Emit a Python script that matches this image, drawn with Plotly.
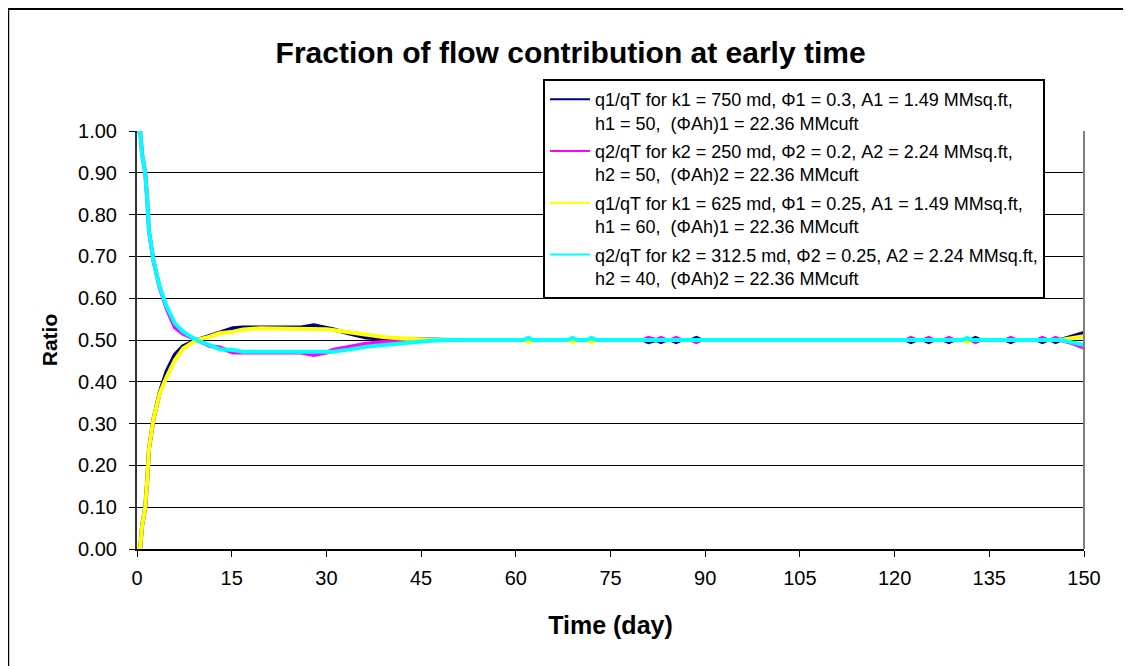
import plotly.graph_objects as go

# time axis (day) shared by all four series
days = [0, 0.5, 0.8, 1.3, 1.6, 1.9, 2.6, 3.6, 4.7, 6, 7.3, 9.4, 11.5, 13.1, 15.2, 16.8, 19.5,
        24, 26, 28, 30, 31, 33.5, 36.3, 39, 41.6, 44, 46.9, 50, 55,
        61.2, 62, 62.8, 68.2, 69, 69.8, 71.2, 72, 72.8,
        80.2, 81, 81.8, 82.2, 83, 83.8, 84.6, 85.4, 86.2, 87.8, 88.6, 89.4,
        100, 110,
        121.8, 122.6, 123.4, 124.6, 125.4, 126.2, 127.8, 128.6, 129.4,
        130.7, 131.5, 132.1, 132.8, 133.6,
        137.6, 138.4, 139.2,
        142.6, 143.4, 144.2, 144.8, 145.5, 146.3,
        148, 150]

q1_case1 = [0, 0, 0.055, 0.10, 0.16, 0.24, 0.31, 0.375, 0.425, 0.465, 0.485, 0.50, 0.51, 0.518, 0.528, 0.53, 0.53,
            0.53, 0.53, 0.535, 0.53, 0.526, 0.516, 0.506, 0.503, 0.502, 0.501, 0.50, 0.50, 0.50,
            0.50, 0.50, 0.50, 0.50, 0.50, 0.50, 0.50, 0.50, 0.50,
            0.50, 0.495, 0.50, 0.50, 0.495, 0.50, 0.50, 0.495, 0.50, 0.50, 0.505, 0.50,
            0.50, 0.50,
            0.50, 0.495, 0.50, 0.50, 0.495, 0.50, 0.50, 0.495, 0.50,
            0.50, 0.50, 0.50, 0.505, 0.50,
            0.50, 0.495, 0.50,
            0.50, 0.495, 0.50, 0.50, 0.495, 0.50,
            0.507, 0.517]

q2_case1 = [1.00, 1.00, 0.945, 0.90, 0.84, 0.76, 0.69, 0.625, 0.575, 0.53, 0.515, 0.50, 0.486, 0.482, 0.47, 0.47, 0.47,
            0.47, 0.47, 0.464, 0.47, 0.476, 0.484, 0.491, 0.495, 0.498, 0.499, 0.50, 0.50, 0.50,
            0.50, 0.50, 0.50, 0.50, 0.50, 0.50, 0.50, 0.50, 0.50,
            0.50, 0.505, 0.50, 0.50, 0.505, 0.50, 0.50, 0.505, 0.50, 0.50, 0.495, 0.50,
            0.50, 0.50,
            0.50, 0.505, 0.50, 0.50, 0.505, 0.50, 0.50, 0.505, 0.50,
            0.50, 0.50, 0.50, 0.495, 0.50,
            0.50, 0.505, 0.50,
            0.50, 0.505, 0.50, 0.50, 0.505, 0.50,
            0.493, 0.482]

q1_case2 = [0, 0, 0.055, 0.10, 0.16, 0.24, 0.31, 0.373, 0.412, 0.452, 0.48, 0.50, 0.508, 0.516, 0.52, 0.525, 0.528,
            0.528, 0.528, 0.528, 0.526, 0.524, 0.518, 0.512, 0.507, 0.504, 0.502, 0.50, 0.50, 0.50,
            0.50, 0.495, 0.50, 0.50, 0.495, 0.50, 0.50, 0.495, 0.50,
            0.50, 0.50, 0.50, 0.50, 0.50, 0.50, 0.50, 0.50, 0.50, 0.50, 0.50, 0.50,
            0.50, 0.50,
            0.50, 0.50, 0.50, 0.50, 0.50, 0.50, 0.50, 0.50, 0.50,
            0.50, 0.495, 0.50, 0.50, 0.50,
            0.50, 0.50, 0.50,
            0.50, 0.50, 0.50, 0.50, 0.50, 0.50,
            0.504, 0.509]

q2_case2 = [1.00, 1.00, 0.945, 0.90, 0.84, 0.76, 0.69, 0.627, 0.58, 0.54, 0.52, 0.50, 0.488, 0.478, 0.476, 0.472, 0.472,
            0.472, 0.472, 0.472, 0.472, 0.472, 0.477, 0.484, 0.488, 0.492, 0.496, 0.499, 0.50, 0.50,
            0.50, 0.505, 0.50, 0.50, 0.505, 0.50, 0.50, 0.505, 0.50,
            0.50, 0.50, 0.50, 0.50, 0.50, 0.50, 0.50, 0.50, 0.50, 0.50, 0.50, 0.50,
            0.50, 0.50,
            0.50, 0.50, 0.50, 0.50, 0.50, 0.50, 0.50, 0.50, 0.50,
            0.50, 0.505, 0.50, 0.50, 0.50,
            0.50, 0.50, 0.50,
            0.50, 0.50, 0.50, 0.50, 0.50, 0.50,
            0.495, 0.488]

names = [
    "q1/qT for k1 = 750 md, \u03a61 = 0.3, A1 = 1.49 MMsq.ft,<br>h1 = 50,  (\u03a6Ah)1 = 22.36 MMcuft",
    "q2/qT for k2 = 250 md, \u03a62 = 0.2, A2 = 2.24 MMsq.ft,<br>h2 = 50,  (\u03a6Ah)2 = 22.36 MMcuft",
    "q1/qT for k1 = 625 md, \u03a61 = 0.25, A1 = 1.49 MMsq.ft,<br>h1 = 60,  (\u03a6Ah)1 = 22.36 MMcuft",
    "q2/qT for k2 = 312.5 md, \u03a62 = 0.25, A2 = 2.24 MMsq.ft,<br>h2 = 40,  (\u03a6Ah)2 = 22.36 MMcuft",
]
series = [q1_case1, q2_case1, q1_case2, q2_case2]
colors = ["#000080", "#FF00FF", "#FFFF00", "#00FFFF"]

font = "Arial, Liberation Sans, sans-serif"

fig = go.Figure()
for i, (ys, name, col) in enumerate(zip(series, names, colors)):
    fig.add_trace(go.Scatter(x=days, y=ys, mode="lines", name=name, legendgroup=str(i),
                             showlegend=False, line=dict(color=col, width=4)))
# legend entries with a thin sample line, like the original
for i, (name, col) in enumerate(zip(names, colors)):
    fig.add_trace(go.Scatter(x=[None], y=[None], mode="lines", name=name, legendgroup=str(i),
                             line=dict(color=col, width=2)))

fig.update_layout(
    width=1123, height=658,
    margin=dict(l=129, r=47, t=123, b=117),
    paper_bgcolor="white", plot_bgcolor="white",
    font=dict(family=font, color="black"),
    title=dict(text="<b>Fraction of flow contribution at early time</b>",
               font=dict(size=30, family=font), x=0.501, xanchor="center",
               y=0.933, yanchor="middle"),
    legend=dict(x=0.4287, y=1.1244, xanchor="left", yanchor="top",
                bordercolor="black", borderwidth=2, bgcolor="white",
                font=dict(size=18, family=font), valign="top",
                tracegroupgap=2, itemwidth=40, traceorder="grouped"),
    shapes=[
        # outer chart border
        dict(type="rect", xref="paper", yref="paper", x0=-0.136, x1=1.2, y0=-0.5, y1=1.292,
             line=dict(color="black", width=2), layer="below"),
        # plot area right edge
        dict(type="line", xref="paper", yref="paper", x0=1, x1=1, y0=0, y1=1,
             line=dict(color="#808080", width=2)),
    ],
)

fig.update_xaxes(range=[0, 150], tick0=0, dtick=15, showgrid=False, zeroline=False,
                 showline=True, linecolor="black", linewidth=2,
                 ticks="outside", ticklen=6, tickcolor="black", ticklabelstandoff=4,
                 tickfont=dict(size=20, family=font),
                 title=dict(text="<b>Time (day)</b>", font=dict(size=25, family=font), standoff=28))
fig.update_yaxes(range=[0, 1], tick0=0, dtick=0.1, tickformat=".2f",
                 showgrid=True, gridcolor="black", gridwidth=1, zeroline=False,
                 showline=True, linecolor="#333333", linewidth=2,
                 ticks="outside", ticklen=6, tickcolor="black", ticklabelstandoff=8,
                 tickfont=dict(size=20, family=font),
                 title=dict(text="<b>Ratio</b>", font=dict(size=21, family=font), standoff=15))

fig.write_html("out.html")
